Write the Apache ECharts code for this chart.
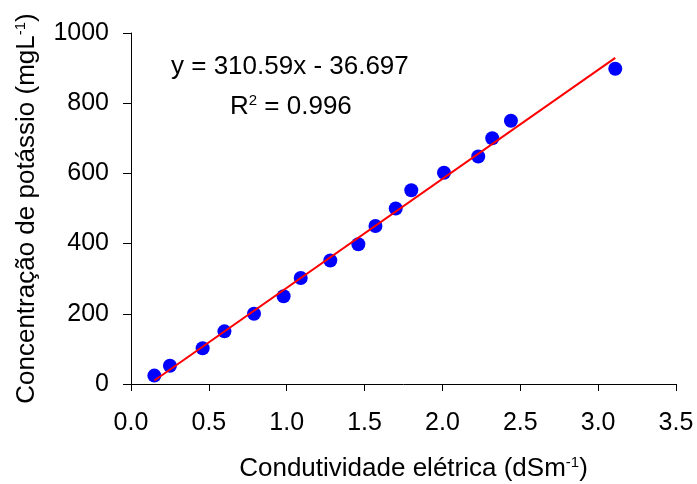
<!DOCTYPE html>
<html>
<head>
<meta charset="utf-8">
<script src="https://cdn.jsdelivr.net/npm/echarts@6/dist/echarts.min.js"></script>
<style>
html,body{margin:0;padding:0;background:#fff;}
#chart{width:697px;height:484px;}
</style>
</head>
<body>
<div id="chart"></div>
<script>
// Data
var condutividade = [0.15, 0.25, 0.46, 0.60, 0.79, 0.98, 1.09, 1.28, 1.46, 1.57, 1.70, 1.80, 2.01, 2.23, 2.32, 2.44, 3.11];
var potassio = [24, 52, 102, 150, 200, 250, 302, 352, 398, 450, 500, 552, 602, 648, 700, 750, 898];
var slope = 310.59;
var intercept = -36.697;
var r2 = 0.996;
var xTicks = [0, 3.5, 0.5];
var yTicks = [0, 1000, 200];

var FONT = 'Liberation Sans, Arial, sans-serif';
var pts = condutividade.map(function (x, i) { return [x, potassio[i]]; });
var xmin = Math.min.apply(null, condutividade);
var xmax = Math.max.apply(null, condutividade);
var trend = [[xmin, slope * xmin + intercept], [xmax, slope * xmax + intercept]];
var supStyle = {fontSize: 15, fontFamily: FONT, color: '#000', verticalAlign: 'top', padding: [0, 0, 13, 0]};

var chart = echarts.init(document.getElementById('chart'), null, {renderer: 'canvas'});
chart.setOption({
  animation: false,
  backgroundColor: '#ffffff',
  grid: {left: 131, right: 21, top: 33, bottom: 100, containLabel: false, outerBoundsMode: 'none'},
  xAxis: {
    type: 'value', min: xTicks[0], max: xTicks[1], interval: xTicks[2],
    axisLine: {lineStyle: {color: '#000', width: 1}},
    axisTick: {show: true, inside: false, length: 7, lineStyle: {color: '#000'}},
    splitLine: {show: false},
    axisLabel: {color: '#000', fontFamily: FONT, fontSize: 25, margin: 27,
      formatter: function (v) { return v.toFixed(1); }},
    name: 'Condutividade elétrica (dSm{sup|-1})',
    nameLocation: 'middle', nameGap: 71,
    nameTextStyle: {color: '#000', fontFamily: FONT, fontSize: 26, padding: [0, 0, 0, 20],
      rich: {sup: supStyle}}
  },
  yAxis: {
    type: 'value', min: yTicks[0], max: yTicks[1], interval: yTicks[2],
    axisLine: {show: true, lineStyle: {color: '#000', width: 1}},
    axisTick: {show: true, inside: false, length: 8, lineStyle: {color: '#000'}},
    splitLine: {show: false},
    axisLabel: {color: '#000', fontFamily: FONT, fontSize: 25, margin: 22,
      formatter: function (v) { return String(v); }},
    name: 'Concentração de potássio (mgL{sup|-1})',
    nameLocation: 'middle', nameGap: 90,
    nameTextStyle: {color: '#000', fontFamily: FONT, fontSize: 26,
      rich: {sup: supStyle}}
  },
  graphic: [
    {type: 'text', left: 171, top: 54, style: {
      text: 'y = ' + slope.toFixed(2) + 'x - ' + Math.abs(intercept).toFixed(3),
      fill: '#000', font: '26px ' + FONT}},
    {type: 'text', left: 230, top: 93, style: {
      text: 'R{sup|2} = ' + r2.toFixed(3),
      fill: '#000', font: '26px ' + FONT,
      rich: {sup: {fontSize: 15, fontFamily: FONT, fill: '#000', verticalAlign: 'top', padding: [0, 0, 13, 0]}}}}
  ],
  series: [
    {type: 'scatter', data: pts, symbol: 'circle', symbolSize: 14,
      itemStyle: {color: '#0000ff', opacity: 1}, z: 2},
    {type: 'line', data: trend, symbol: 'none', lineStyle: {color: '#ff0000', width: 2}, z: 3}
  ]
});
</script>
</body>
</html>
